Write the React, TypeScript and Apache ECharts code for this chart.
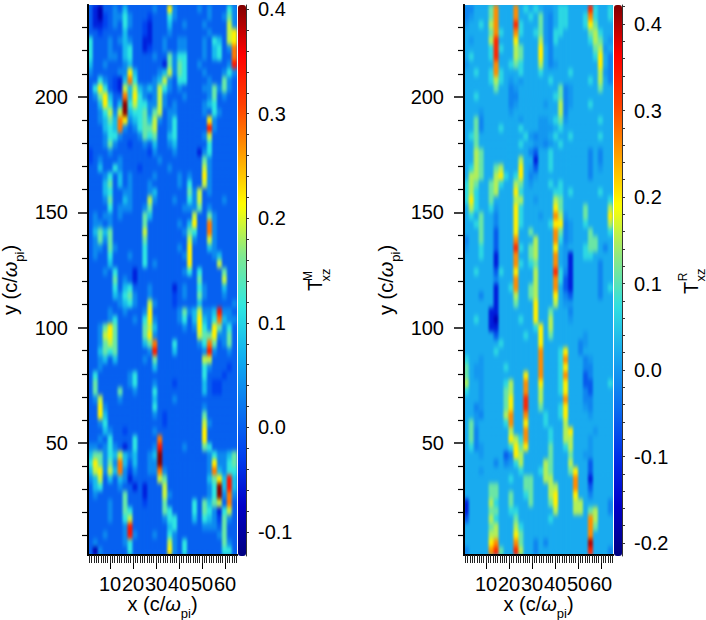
import { useEffect, useRef } from "react";
import * as echarts from "echarts";

// each character of a row is one cell; top row first
const leftRows = [
  "3103343533 3334339433 3343433364",
  "3102344643 3323336433 3333433474",
  "3112343643 3213335334 3334333384",
  "3323333533 3213334333 3333433389",
  "6333434543 3113343344 3334365389",
  "6333433563 3123343344 333435634a",
  "6333443563 3334337466 333435633a",
  "5334333453 3333317476 334333334b",
  "4333334495 3333458476 3334333464",
  "3364321 5a6 3334584366 3333433743",
  "3696321858 5454864343 3334474743",
  "3479533a59 6434843334 3333473433",
  "3359635c68 6644843433 3334563333",
  "334684 8c56 6747834433 3334364333",
  "334575a945 6758434633 3333943333",
  "333565a434 6778334633 3333b43333",
  "3334664333 4767335633 3334833333",
  "3334743323 3435334533 3333633333",
  "2333433333 3324333433 3314633333",
  "2343334333 3333433333 3337433333",
  "3353364333 2333334333 3338433333",
  "3334635343 3334333343 4339433333",
  "3335735343 3343333343 6338433333",
  "3335633443 3345333333 7483433333",
  "3334733543 3384333433 6483333433",
  "3333634443 3473333334 4473433333",
  "3434434333 3753333333 3833743333",
  "3443433333 3733333343 5933a43333",
  "3575733333 3833333334 7633a43333",
  "3474733333 3733333333 8433843333",
  "3443743333 3633333343 9333543333",
  "3433633343 3633333334 9333345333",
  "3333533333 3634333333 9333338333",
  "3334363331 3333333334 6363333733",
  "3333373431 3333333333 3373333833",
  "3333363563 3343333134 3364333533",
  "3333354674 3343333234 3374333433",
  "3333334564 3384333233 3353333334",
  "3333433433 3493333347 458445b443",
  "3333463334 3694333346 359546a544",
  "3347973333 3785333334 3496497463",
  "3348973333 3794333333 3387794473",
  "3347873333 357a333633 3346a73473",
  "3357673333 334b333533 3334b43343",
  "3345353333 3437333333 3338833333",
  "3343333333 3335333333 3336433323",
  "3633333346 3333333333 3336333233",
  "3733333346 3334333233 3335322333",
  "3733337334 3336333333 3335322333",
  "3483334333 3335333433 3333333333",
  "3394333333 3336333333 3334333333",
  "3395333333 3334323333 3337333333",
  "3346333333 3333323333 3338433333",
  "3335433233 3334333333 3339333333",
  "3343633336 3333a33333 3339333333",
  "4434643136 3334b33334 3337633333",
  "5774658545 3345c33333 3333464457",
  "697474a535 3344c33333 3333494467",
  "589485a424 3344a43333 33334a5466",
  "4583535413 3333873333 33335795b5",
  "3563334331 3133383333 333346c5b5",
  "3433333733 3133384333 333346c4a4",
  "3333433733 3233373333 36375783a3",
  "3333433763 3333376333 3637641683",
  "3333433683 3333346633 3536542743",
  "33333334b3 3333335633 3334443733",
  "33343334b4 3334336433 3333334733",
  "3433333463 3333338436 3333333743",
  "3043333363 3333339436 3333333663",
];

const rightRows = [
  "335557a555 a565654456 65555b6556",
  "345557a555 a556574356 65556a6556",
  "455658a555 b655574356 6555697555",
  "555557a655 a655674366 5555578655",
  "545558b555 9555584365 5555568754",
  "555556b655 8755595355 5555557845",
  "565556b555 8755595355 5555556953",
  "455555a556 7655585345 5555555953",
  "556556a655 5655565555 5655555843",
  "5555568654 5455555655 5555565853",
  "5555557553 4555555557 3455555755",
  "5565555553 3555555567 3455555555",
  "5555555553 4555554558 3455565555",
  "5554555554 5555555558 3555555555",
  "5573555555 5455544567 4555555655",
  "5573555655 5655544456 5555555555",
  "5675555555 5564344565 5655555655",
  "5575555555 5655443456 5555555555",
  "5587555555 5553255655 5555535355",
  "5587555555 5855155655 5555535355",
  "5687557855 5954255655 5555535455",
  "5887558965 6953455555 5555535555",
  "6875578655 8754555656 5555555555",
  "6865578555 9655555566 5655555655",
  "6965575555 8855455587 5555555556",
  "5865564555 9655555597 5555755558",
  "5657553555 96555455a8 4555755559",
  "5567553555 9655555699 3455655558",
  "5557552555 95575555a7 3455575556",
  "3557552555 a5558555a6 3455577555",
  "4556552555 b657855595 4555677535",
  "5556551555 a5578555a5 4155665555",
  "5555551555 a6567555a5 4155555355",
  "5565552655 95558555b6 3155555355",
  "5555553555 a5558555a6 2155555355",
  "5555551556 a5578555a5 2155555356",
  "5553551555 8557855595 3255555355",
  "5555551555 7555955585 4455555555",
  "5555511555 5555955755 5355555555",
  "5565510555 5655955855 5455555555",
  "5555511555 5555695855 5555555555",
  "5555552555 5565595755 5555455555",
  "5555555655 5555595555 5553455555",
  "5555556555 55555a5556 9553555555",
  "6554555555 55555a5556 a555345555",
  "7544555565 55555a5556 9555335555",
  "7544555555 55955a5556 a555235555",
  "8554555568 55a5595556 9555225556",
  "6554555578 55a5585556 9555325555",
  "5554555579 55b5585555 a555335555",
  "5534555579 55b5575556 9555435555",
  "554355558a 55a5556556 9555545555",
  "574555556a 5595556555 8555555555",
  "5735555558 55a5555655 8955554555",
  "5735555559 86a5555655 8855545555",
  "5634555556 9795555755 6855545555",
  "5554555523 9855555755 5755445555",
  "5555553534 6855558755 5855525555",
  "5554555555 5655568755 5795525555",
  "5555555556 5577558855 55a5515555",
  "5555577555 5577555885 55a5525555",
  "5555577557 5567555895 5595535555",
  "1555586557 5557555795 5588555553",
  "1555577556 6555555585 5588578553",
  "2555586555 7555555655 55555a8555",
  "5555578555 8655555555 55555a7555",
  "5555588555 9755555555 55555a5555",
  "555559a555 a755353555 55555c5555",
  "35555ab755 b855355555 55555b5553",
];

// what each character stands for, in the units of each colour bar
const levelKeys = "0123456789abc";
const leftLevels = [-0.09, -0.05, -0.025, 0.0, 0.035, 0.08, 0.115, 0.15, 0.19, 0.22, 0.28, 0.34, 0.4];
const rightLevels = [-0.17, -0.12, -0.06, -0.02, 0.0, 0.02, 0.065, 0.11, 0.15, 0.2, 0.26, 0.33, 0.4];

const leftBarColors = ["#000080", "#0000c8", "#0040f0", "#0a78f0", "#10b0f0", "#30e8e0", "#80e890", "#ffff00", "#ffa000", "#ff4000", "#ff0000", "#800000"];
const rightBarColors = ["#000080", "#0000c8", "#0030e8", "#0a70f0", "#18a8f0", "#30e0e0", "#90e880", "#ffff00", "#ffa000", "#ff4000", "#ff0000", "#800000"];

const xLabels = [10, 20, 30, 40, 50, 60];
const yLabels = [50, 100, 150, 200];
const yMinor = [10, 20, 30, 40, 60, 70, 80, 90, 110, 120, 130, 140, 160, 170, 180, 190, 210, 220, 230];
const xMinor = Array.from({ length: 65 }, (_, i) => i + 1);
const leftBarLabels = [-0.1, 0.0, 0.1, 0.2, 0.3, 0.4];
const rightBarLabels = [-0.2, -0.1, 0.0, 0.1, 0.2, 0.3, 0.4];

const font = "Liberation Sans";
const ink = "#000";
const top = 5;
const plotWidth = 149;
const plotHeight = 550;
const leftX = 88;
const rightX = 464;
const leftBack = "#0a64ea";
const rightBack = "#18a9f0";

function decode(rows: string[], levels: number[]) {
  const out: number[][] = [];
  rows.forEach((row, r) => {
    row
      .replace(/ /g, "")
      .split("")
      .forEach((ch, c) => out.push([c, r, levels[levelKeys.indexOf(ch)]]));
  });
  return out;
}

const axisName = {
  rich: {
    a: { fontFamily: font, fontSize: 20, color: ink, lineHeight: 22, verticalAlign: "top" },
    w: { fontFamily: font, fontSize: 20, fontStyle: "italic", color: ink, lineHeight: 22, verticalAlign: "top" },
    s: { fontFamily: font, fontSize: 13, color: ink, padding: [13, 0, 0, 0], verticalAlign: "top" },
  },
};

// the field itself goes in its own chart, under the axes, so it can be softened
function heatOption() {
  const panel = (i: number, left: number, rows: string[], levels: number[], colors: string[], min: number, max: number) => ({
    grid: { left, top, width: plotWidth, height: plotHeight, outerBoundsMode: "none" },
    xAxis: { type: "category", gridIndex: i, data: rows[0].replace(/ /g, "").split("").map((_, c) => c), show: false },
    yAxis: { type: "category", gridIndex: i, data: rows.map((_, r) => r), inverse: true, show: false },
    visualMap: { type: "continuous", show: false, seriesIndex: i, dimension: 2, min, max, inRange: { color: colors } },
    series: { type: "heatmap", xAxisIndex: i, yAxisIndex: i, data: decode(rows, levels), progressive: 0, itemStyle: { borderWidth: 0 }, emphasis: { disabled: true } },
  });
  const a = panel(0, leftX, leftRows, leftLevels, leftBarColors, -0.123, 0.404);
  const b = panel(1, rightX, rightRows, rightLevels, rightBarColors, -0.215, 0.422);
  return {
    animation: false,
    grid: [a.grid, b.grid],
    xAxis: [a.xAxis, b.xAxis],
    yAxis: [a.yAxis, b.yAxis],
    visualMap: [a.visualMap, b.visualMap],
    series: [a.series, b.series],
  };
}

function frame(index: number, plotLeft: number, colors: string[], barMin: number, barMax: number, barLabels: number[]) {
  const g = index * 2;
  const xBase = {
    type: "value" as const,
    gridIndex: g,
    position: "bottom" as const,
    min: 0.43,
    max: 65.2,
    splitLine: { show: false },
    axisLine: { onZero: false, lineStyle: { color: ink, width: 2 } },
  };
  const yBase = {
    type: "value" as const,
    gridIndex: g,
    position: "left" as const,
    min: 1.5,
    max: 239.8,
    splitLine: { show: false },
    axisLine: { onZero: false, lineStyle: { color: ink, width: 2 } },
  };
  return {
    grid: [
      { left: plotLeft, top, width: plotWidth, height: plotHeight, outerBoundsMode: "none" },
      { left: plotLeft + 150, top, width: 8, height: 551, outerBoundsMode: "none" },
    ],
    xAxis: [
      {
        ...xBase,
        name: "{a|x (c/}{w|ω}{s|pi}{a|)}",
        nameLocation: "middle",
        nameGap: 39,
        nameMoveOverlap: false,
        nameTextStyle: axisName,
        axisTick: { length: 14, lineStyle: { color: ink, width: 1 }, customValues: xLabels },
        axisLabel: { margin: 19, fontFamily: font, fontSize: 20, color: ink, customValues: xLabels, hideOverlap: false },
      },
      {
        ...xBase,
        axisTick: { length: 8, lineStyle: { color: "#222", width: 1 }, customValues: xMinor },
        axisLabel: { show: false },
      },
      { type: "value", gridIndex: g + 1, min: 0, max: 1, show: false, position: "bottom" },
    ],
    yAxis: [
      {
        ...yBase,
        name: "{a|y (c/}{w|ω}{s|pi}{a|)}",
        nameLocation: "middle",
        nameGap: 62,
        nameMoveOverlap: false,
        nameTextStyle: axisName,
        axisTick: { length: 10, lineStyle: { color: ink, width: 1.5 }, customValues: yLabels },
        axisLabel: { margin: 20, fontFamily: font, fontSize: 20, color: ink, customValues: yLabels },
      },
      {
        ...yBase,
        axisTick: { length: 6, lineStyle: { color: ink, width: 1.2 }, customValues: yMinor },
        axisLabel: { show: false },
      },
      {
        type: "value",
        gridIndex: g + 1,
        position: "right",
        min: barMin,
        max: barMax,
        splitLine: { show: false },
        axisLine: { onZero: false, lineStyle: { color: "#333", width: 1 } },
        axisTick: { length: 3, lineStyle: { color: "#333", width: 1 }, customValues: barLabels.flatMap((v) => [v, v + 0.02, v + 0.04, v + 0.06, v + 0.08]).filter((v) => v <= barMax) },
        axisLabel: {
          margin: 12,
          fontFamily: font,
          fontSize: 20,
          color: ink,
          customValues: barLabels,
          formatter: (v: number) => v.toFixed(1),
        },
      },
    ],
    visualMap: {
      type: "continuous",
      seriesIndex: [],
      dimension: 2,
      min: barMin,
      max: barMax,
      show: true,
      calculable: false,
      hoverLink: false,
      text: ["", ""],
      left: plotLeft + 150,
      top,
      padding: 0,
      itemWidth: 8,
      itemHeight: 551,
      inRange: { color: colors },
    },
  };
}

function barTitle(x: number, y: number, sup: string, supDx: number, supDy: number, subDx: number, subDy: number) {
  const rot = Math.PI / 2;
  const base = { fontFamily: font, fill: ink, textAlign: "center", textVerticalAlign: "middle" };
  return [
    { type: "text", x, y, rotation: rot, style: { ...base, text: "T", fontSize: 20 } },
    { type: "text", x: x + supDx, y: y + supDy, rotation: rot, style: { ...base, text: sup, fontSize: 12 } },
    { type: "text", x: x + subDx, y: y + subDy, rotation: rot, style: { ...base, text: "xz", fontSize: 13 } },
  ];
}

export default function App() {
  const heatRef = useRef<HTMLDivElement>(null);
  const frameRef = useRef<HTMLDivElement>(null);

  useEffect(() => {
    if (!heatRef.current || !frameRef.current) return;
    const heat = echarts.init(heatRef.current, null, { renderer: "svg" });
    const chart = echarts.init(frameRef.current, null, { renderer: "svg" });

    heat.setOption(heatOption());

    const left = frame(0, leftX, leftBarColors, -0.123, 0.404, leftBarLabels);
    const right = frame(1, rightX, rightBarColors, -0.215, 0.422, rightBarLabels);
    chart.setOption({
      animation: false,
      textStyle: { fontFamily: font },
      grid: [...left.grid, ...right.grid],
      xAxis: [...left.xAxis, ...right.xAxis],
      yAxis: [...left.yAxis, ...right.yAxis],
      visualMap: [left.visualMap, right.visualMap],
      graphic: [...barTitle(315, 285, "M", -7.5, -9, 10, -10), ...barTitle(691, 288, "R", -8, -11, 9.5, -13)],
    });

    return () => {
      heat.dispose();
      chart.dispose();
    };
  }, []);

  const box = { position: "absolute" as const, left: 0, top: 0, width: 706, height: 620 };
  const clip = `path("M${leftX} ${top}h${plotWidth}v${plotHeight}h-${plotWidth}z M${rightX} ${top}h${plotWidth}v${plotHeight}h-${plotWidth}z")`;

  return (
    <div style={box}>
      <svg width="0" height="0" style={{ position: "absolute" }}>
        <filter id="soften" x="0" y="0" width="100%" height="100%" colorInterpolationFilters="sRGB">
          <feGaussianBlur stdDeviation="1 2.4" />
        </filter>
      </svg>
      <div style={{ position: "absolute", left: leftX, top, width: plotWidth, height: plotHeight, background: leftBack }} />
      <div style={{ position: "absolute", left: rightX, top, width: plotWidth, height: plotHeight, background: rightBack }} />
      <div style={{ ...box, clipPath: clip }}>
        <div ref={heatRef} style={{ ...box, filter: "url(#soften)" }} />
      </div>
      <div ref={frameRef} style={box} />
    </div>
  );
}
